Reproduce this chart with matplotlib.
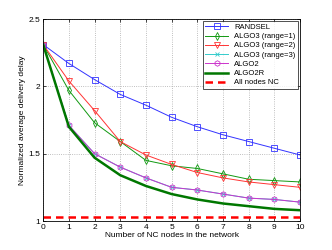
import matplotlib
matplotlib.use('Agg')
import matplotlib.pyplot as plt

plt.rcParams['font.family'] = ['Liberation Sans', 'DejaVu Sans']

nodes = [0, 1, 2, 3, 4, 5, 6, 7, 8, 9, 10]
randsel = [2.31, 2.17, 2.05, 1.94, 1.86, 1.77, 1.70, 1.64, 1.59, 1.54, 1.49]
algo3_r1 = [2.31, 1.97, 1.73, 1.59, 1.45, 1.41, 1.39, 1.35, 1.31, 1.30, 1.29]
algo3_r2 = [2.31, 2.04, 1.82, 1.59, 1.49, 1.42, 1.36, 1.32, 1.29, 1.27, 1.25]
algo3_r3 = [2.31, 1.71, 1.50, 1.40, 1.32, 1.25, 1.23, 1.20, 1.17, 1.16, 1.14]
algo2 = [2.31, 1.71, 1.50, 1.40, 1.32, 1.25, 1.23, 1.20, 1.17, 1.16, 1.14]
algo2r = [2.31, 1.70, 1.47, 1.34, 1.26, 1.20, 1.16, 1.13, 1.11, 1.09, 1.08]
all_nc = 1.03

fig = plt.figure(figsize=(3.32, 2.5), dpi=100)
ax = fig.add_axes([0.13, 0.116, 0.774, 0.808])

ms = 4
ax.plot(nodes, randsel, color='#3333ff', lw=0.7, marker='s', ms=ms, mfc='none', mew=0.6, label='RANDSEL')
ax.plot(nodes, algo3_r1, color='#119911', lw=0.7, marker='d', ms=ms, mfc='none', mew=0.6, label='ALGO3 (range=1)')
ax.plot(nodes, algo3_r2, color='#ff3333', lw=0.7, marker='v', ms=ms, mfc='none', mew=0.6, label='ALGO3 (range=2)')
ax.plot(nodes, algo3_r3, color='#33cccc', lw=0.7, marker='x', ms=3, mew=0.6, label='ALGO3 (range=3)')
ax.plot(nodes, algo2, color='#cc33cc', lw=0.7, marker='h', ms=ms, mfc='none', mew=0.6, label='ALGO2')
ax.plot(nodes, algo2r, color='#007700', lw=1.8, label='ALGO2R')
ax.plot([0, 10], [all_nc, all_nc], color='#ff0000', lw=1.8, ls=(0, (3, 2)), label='All nodes NC')

ax.set_xlim(0, 10)
ax.set_ylim(1, 2.5)
ax.set_xticks(nodes)
ax.set_yticks([1, 1.5, 2, 2.5])
ax.set_yticklabels(['1', '1.5', '2', '2.5'])
ax.tick_params(direction='in', labelsize=6, length=2, width=0.5, top=True, right=True, pad=2)
ax.grid(True, ls=':', color='#aaaaaa', lw=0.6)
for s in ax.spines.values():
    s.set_linewidth(0.6)

ax.set_xlabel('Number of NC nodes in the network', fontsize=6, labelpad=1)
ax.set_ylabel('Normalized average delivery delay', fontsize=6, labelpad=2)

leg = ax.legend(loc='upper right', fontsize=5.5, fancybox=False, edgecolor='black',
                handlelength=3, borderaxespad=0.3, labelspacing=0.25, borderpad=0.3)
leg.get_frame().set_linewidth(0.6)

fig.savefig('out.png', dpi=100)
